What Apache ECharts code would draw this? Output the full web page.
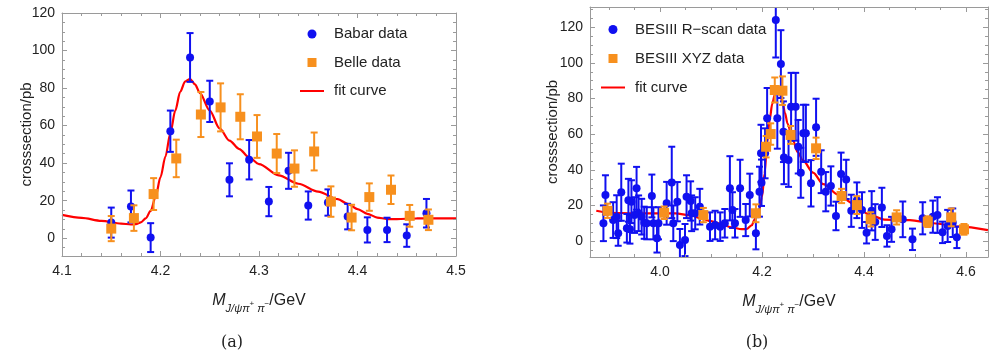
<!DOCTYPE html>
<html><head><meta charset="utf-8">
<script src="https://cdn.jsdelivr.net/npm/echarts@6/dist/echarts.min.js"></script>
<style>html,body{margin:0;padding:0;background:#fff}#c{width:989px;height:354px}</style>
</head><body><div id="c"></div><script>
// ---------- data: [x (GeV), cross section (pb), error] ----------
const babarData = [[4.150,8.3,8],[4.170,16.9,8.5],[4.190,0.3,7.7],[4.210,57,11],[4.230,96.3,13],[4.250,72.9,11],[4.270,31.1,8.8],[4.290,41.8,10.5],[4.310,19.5,7.8],[4.330,35.9,9.6],[4.350,17.4,7.5],[4.370,19,7],[4.390,11.5,6.8],[4.410,4.4,6.7],[4.430,4.4,6.5],[4.450,1.4,6],[4.470,13.3,7.6]];
const belleData = [[4.150,5.1,6.7],[4.173,10.7,6.8],[4.193,23.5,8.5],[4.216,42.5,10],[4.241,65.9,12],[4.261,69.7,12.8],[4.281,64.7,12],[4.298,54.2,11.4],[4.318,45.1,10.4],[4.336,37.1,9.7],[4.356,46.2,10.1],[4.373,19.5,8.1],[4.394,11,6.8],[4.412,21.9,7.3],[4.434,25.8,7.6],[4.453,11.9,5.8],[4.472,9.8,5.5]];
const fitA = [[4.10,12.4],[4.12,10.8],[4.14,9.2],[4.16,7.8],[4.17,7.3],[4.175,7.5],[4.18,8.4],[4.185,10.6],[4.19,14.5],[4.195,22],[4.20,32.5],[4.205,43.5],[4.21,56],[4.215,68],[4.22,78],[4.225,83.5],[4.23,84.8],[4.235,82],[4.24,77.3],[4.25,68],[4.26,58.5],[4.27,52],[4.28,47.5],[4.29,43],[4.30,39.5],[4.32,33.5],[4.34,29],[4.36,24.8],[4.38,20.8],[4.39,18.3],[4.40,15.5],[4.41,13],[4.42,11],[4.43,10.2],[4.44,10.2],[4.46,10.5],[4.48,10.6],[4.50,10.5]];
const rscanData = [[3.889,10.1,10],[3.893,26,11],[3.908,11.9,10],[3.915,13.8,12],[3.918,4.5,7],[3.924,27.5,16],[3.935,7.3,8],[3.938,23,12],[3.941,6.7,8],[3.944,22.2,12],[3.950,14.7,10],[3.954,29.7,12],[3.958,15.7,10],[3.964,13.8,10],[3.969,10.4,9],[3.974,10.1,9],[3.984,25.4,12],[3.987,10.1,9],[3.994,1.7,8],[3.997,10.1,9],[4.013,21.3,12],[4.023,33,20],[4.026,10.1,10],[4.034,22.2,11],[4.039,-2.1,9],[4.049,0.7,9],[4.052,25,12],[4.060,22.6,11],[4.062,15.7,10],[4.069,15.7,9],[4.078,19.4,10],[4.098,8.2,8],[4.108,9.1,8],[4.118,8.2,8],[4.127,10.1,8],[4.137,29.7,18],[4.142,17.5,10],[4.147,10.1,8],[4.157,29.7,16],[4.168,11.9,9],[4.176,25.9,12],[4.188,4.5,9],[4.195,27.8,14],[4.198,49.3,16],[4.199,32.8,13],[4.206,49.3,14],[4.210,68.9,17],[4.227,124,21],[4.230,68.9,17],[4.237,99.3,19],[4.242,61.4,17],[4.243,47,15],[4.252,45.5,15],[4.257,75.4,19],[4.266,75.4,19],[4.271,53,15],[4.276,38.4,14],[4.281,60.5,16],[4.286,60.5,16],[4.296,32.5,13],[4.306,63.9,16],[4.316,39,12],[4.325,27.8,11],[4.335,31,11],[4.345,14.2,8],[4.355,37.7,12],[4.365,34.7,11],[4.375,17.1,9],[4.386,23,10],[4.396,17.5,10],[4.405,4.8,6],[4.415,17.1,11],[4.422,10.8,10],[4.435,19,11],[4.445,3,6],[4.454,6.7,7],[4.476,12.3,10],[4.495,1.1,6],[4.515,12.9,9],[4.535,13.8,9],[4.544,14.7,10],[4.554,5,6],[4.564,8.6,9],[4.574,10.4,8],[4.582,2.2,6]];
const xyzData = [[3.897,17.1,4],[4.008,16,3.5],[4.085,14.7,4],[4.188,15.7,5],[4.208,53,6],[4.217,60.1,6],[4.225,84.8,7],[4.240,84.4,8],[4.256,59.6,5],[4.306,52.1,6],[4.356,25.4,4],[4.386,20.3,5],[4.413,12.3,4],[4.464,13.4,4],[4.525,11,3],[4.571,13.4,5],[4.596,6.7,3]];
const fitB = [[3.875,17.1],[3.90,16],[3.95,15.7],[4.00,15.7],[4.03,15.7],[4.06,14.5],[4.08,12.9],[4.10,11.3],[4.12,9.7],[4.14,7.8],[4.16,6.8],[4.17,6.9],[4.18,9],[4.185,12],[4.19,14],[4.195,18],[4.20,25],[4.205,38],[4.21,55],[4.215,68],[4.22,77],[4.225,82],[4.23,84],[4.235,83],[4.24,78],[4.245,72],[4.25,66],[4.26,57],[4.27,50],[4.28,45.5],[4.30,38.5],[4.32,32],[4.35,26],[4.38,21],[4.41,15],[4.44,12.2],[4.49,11.9],[4.536,10.1],[4.588,8.2],[4.643,6.3]];

// ---------- ticks ----------
const xTicksA = [4.1,4.2,4.3,4.4,4.5];
const xMinorA = [4.12,4.14,4.16,4.18,4.22,4.24,4.26,4.28,4.32,4.34,4.36,4.38,4.42,4.44,4.46,4.48];
const yTicksA = [0,20,40,60,80,100,120];
const yMinorA = [-5,5,10,15,25,30,35,45,50,55,65,70,75,85,90,95,105,110,115];
const xTicksB = [4.0,4.2,4.4,4.6];
const xMinorB = [3.9,3.95,4.05,4.1,4.15,4.25,4.3,4.35,4.45,4.5,4.55];
const yTicksB = [0,20,40,60,80,100,120];
const yMinorB = [-5,5,10,15,25,30,35,45,50,55,65,70,75,85,90,95,105,110,115,125,130];

const BLUE = '#1010f0', ORANGE = '#f7901e', RED = '#ff0000', FRAME = '#9a9a9a', TXT = '#222';
const FONT = 'Liberation Sans';

function axis(kind, gi, pos, min, max, ticks, len, label, line, name) {
  const a = {
    type: 'value', gridIndex: gi, position: pos, min: min, max: max,
    splitLine: {show: false},
    axisLine: {show: line, onZero: false, lineStyle: {color: FRAME, width: 1}},
    axisTick: {show: true, inside: true, length: len, customValues: ticks, lineStyle: {color: FRAME, width: 1}},
    axisLabel: {show: label, customValues: ticks, color: TXT, fontSize: 14, fontFamily: FONT, margin: kind === 'x' ? 8 : 7,
      formatter: v => (kind === 'x' ? (+v).toFixed(1) : String(Math.round(v)))},
    z: 10
  };
  if (name) Object.assign(a, name);
  return a;
}
function xName() {
  return {
    name: '{m|M}{s|J/ψπ}{p|+}{s| π}{p|−}{g|/GeV}',
    nameLocation: 'middle', nameGap: 37, nameMoveOverlap: false,
    nameTextStyle: {fontFamily: FONT, color: TXT, rich: {
      m: {fontSize: 16, fontFamily: FONT, fontStyle: 'italic', color: TXT, lineHeight: 20, verticalAlign: 'top'},
      g: {fontSize: 16, fontFamily: FONT, color: TXT, lineHeight: 20, verticalAlign: 'top'},
      s: {fontSize: 11, fontFamily: FONT, fontStyle: 'italic', color: TXT, lineHeight: 12, padding: [10,0,0,0], verticalAlign: 'top'},
      p: {fontSize: 8, fontFamily: FONT, color: TXT, lineHeight: 9, padding: [7,0,0,0], verticalAlign: 'top'}
    }}
  };
}
const yName = (gap) => ({name: 'crosssection/pb', nameLocation: 'middle', nameRotate: 90, nameGap: gap, nameMoveOverlap: false,
  nameTextStyle: {fontFamily: FONT, fontSize: 15, color: TXT}});

const xA = [4.1, 4.5], yA = [-9.5, 120];
const xB = [3.8627, 4.6431], yB = [-8.8, 131.3];

const xAxes = [
  axis('x',0,'bottom',xA[0],xA[1],xTicksA,5,true,true, xName()),
  axis('x',0,'bottom',xA[0],xA[1],xMinorA,3,false,false),
  axis('x',0,'top',xA[0],xA[1],xTicksA,5,false,true),
  axis('x',0,'top',xA[0],xA[1],xMinorA,3,false,false),
  axis('x',1,'bottom',xB[0],xB[1],xTicksB,5,true,true, xName()),
  axis('x',1,'bottom',xB[0],xB[1],xMinorB,3,false,false),
  axis('x',1,'top',xB[0],xB[1],xTicksB,5,false,true),
  axis('x',1,'top',xB[0],xB[1],xMinorB,3,false,false)
];
const yAxes = [
  axis('y',0,'left',yA[0],yA[1],yTicksA,5,true,true, yName(28)),
  axis('y',0,'left',yA[0],yA[1],yMinorA,3,false,false),
  axis('y',0,'right',yA[0],yA[1],yTicksA,5,false,true),
  axis('y',0,'right',yA[0],yA[1],yMinorA,3,false,false),
  axis('y',1,'left',yB[0],yB[1],yTicksB,5,true,true, yName(30)),
  axis('y',1,'left',yB[0],yB[1],yMinorB,3,false,false),
  axis('y',1,'right',yB[0],yB[1],yTicksB,5,false,true),
  axis('y',1,'right',yB[0],yB[1],yMinorB,3,false,false)
];

function errRender(params, api) {
  const x = api.value(0), y = api.value(1), e = api.value(2);
  const t = api.coord([x, y + e]), b = api.coord([x, y - e]);
  const w = 3.5, st = {stroke: api.visual('color'), lineWidth: 2};
  return {type: 'group', children: [
    {type: 'line', shape: {x1: t[0], y1: t[1], x2: b[0], y2: b[1]}, style: st},
    {type: 'line', shape: {x1: t[0]-w, y1: t[1], x2: t[0]+w, y2: t[1]}, style: st},
    {type: 'line', shape: {x1: b[0]-w, y1: b[1], x2: b[0]+w, y2: b[1]}, style: st}
  ]};
}
function errSeries(data, color, xi, yi, z) {
  return {type: 'custom', name: '_err', data: data, xAxisIndex: xi, yAxisIndex: yi, renderItem: errRender,
    encode: {x: 0, y: 1}, itemStyle: {color: color}, clip: true, silent: true, z: z};
}
function pts(name, data, color, sym, size, xi, yi, z) {
  return {type: 'scatter', name: name, data: data, xAxisIndex: xi, yAxisIndex: yi, symbol: sym, symbolSize: size,
    encode: {x: 0, y: 1}, itemStyle: {color: color, opacity: 1}, clip: true, silent: true, z: z};
}
function fit(data, xi, yi) {
  return {type: 'line', name: 'fit curve', data: data, xAxisIndex: xi, yAxisIndex: yi, showSymbol: false, symbol: 'none',
    smooth: 0.3, smoothMonotone: 'x', lineStyle: {color: RED, width: 2.2}, itemStyle: {color: RED}, clip: true, silent: true, z: 1};
}

const legendCommon = {orient: 'vertical', padding: 0, itemWidth: 24, itemHeight: 9, selectedMode: false,
  textStyle: {fontFamily: FONT, fontSize: 15, color: TXT, padding: [0,0,0,5]}};
const option = {
  animation: false,
  backgroundColor: '#fff',
  grid: [
    {left: 62, top: 13, width: 394, height: 243},
    {left: 590, top: 7, width: 398, height: 250}
  ],
  xAxis: xAxes, yAxis: yAxes,
  legend: [
    Object.assign({}, legendCommon, {left: 300, top: 26.5, itemGap: 13.5, data: [
      {name: 'Babar data', icon: 'circle'},
      {name: 'Belle data', icon: 'path://M0,0H10V10H0Z'},
      {name: 'fit curve', icon: 'path://M0,0H24V2H0Z'}]}),
    Object.assign({}, legendCommon, {left: 601, top: 22, itemGap: 14, data: [
      {name: 'BESIII R−scan data', icon: 'circle'},
      {name: 'BESIII XYZ data', icon: 'path://M0,0H10V10H0Z'},
      {name: 'fit curve', icon: 'path://M0,0H24V2H0Z'}]})
  ],
  series: [
    fit(fitA, 0, 0),
    errSeries(babarData, BLUE, 0, 0, 2), pts('Babar data', babarData, BLUE, 'circle', 8, 0, 0, 3),
    errSeries(belleData, ORANGE, 0, 0, 4), pts('Belle data', belleData, ORANGE, 'rect', 10, 0, 0, 5),
    fit(fitB, 4, 4),
    errSeries(rscanData, BLUE, 4, 4, 2), pts('BESIII R−scan data', rscanData, BLUE, 'circle', 8, 4, 4, 3),
    errSeries(xyzData, ORANGE, 4, 4, 4), pts('BESIII XYZ data', xyzData, ORANGE, 'rect', 10, 4, 4, 5)
  ],
  graphic: [
    {type: 'text', x: 232, y: 343, style: {text: '(a)', fontFamily: 'DejaVu Serif', fontSize: 16, fill: TXT, align: 'center', verticalAlign: 'middle'}},
    {type: 'text', x: 757, y: 343, style: {text: '(b)', fontFamily: 'DejaVu Serif', fontSize: 16, fill: TXT, align: 'center', verticalAlign: 'middle'}}
  ]
};
const chart = echarts.init(document.getElementById('c'), null, {renderer: 'canvas'});
chart.setOption(option);
</script></body></html>
